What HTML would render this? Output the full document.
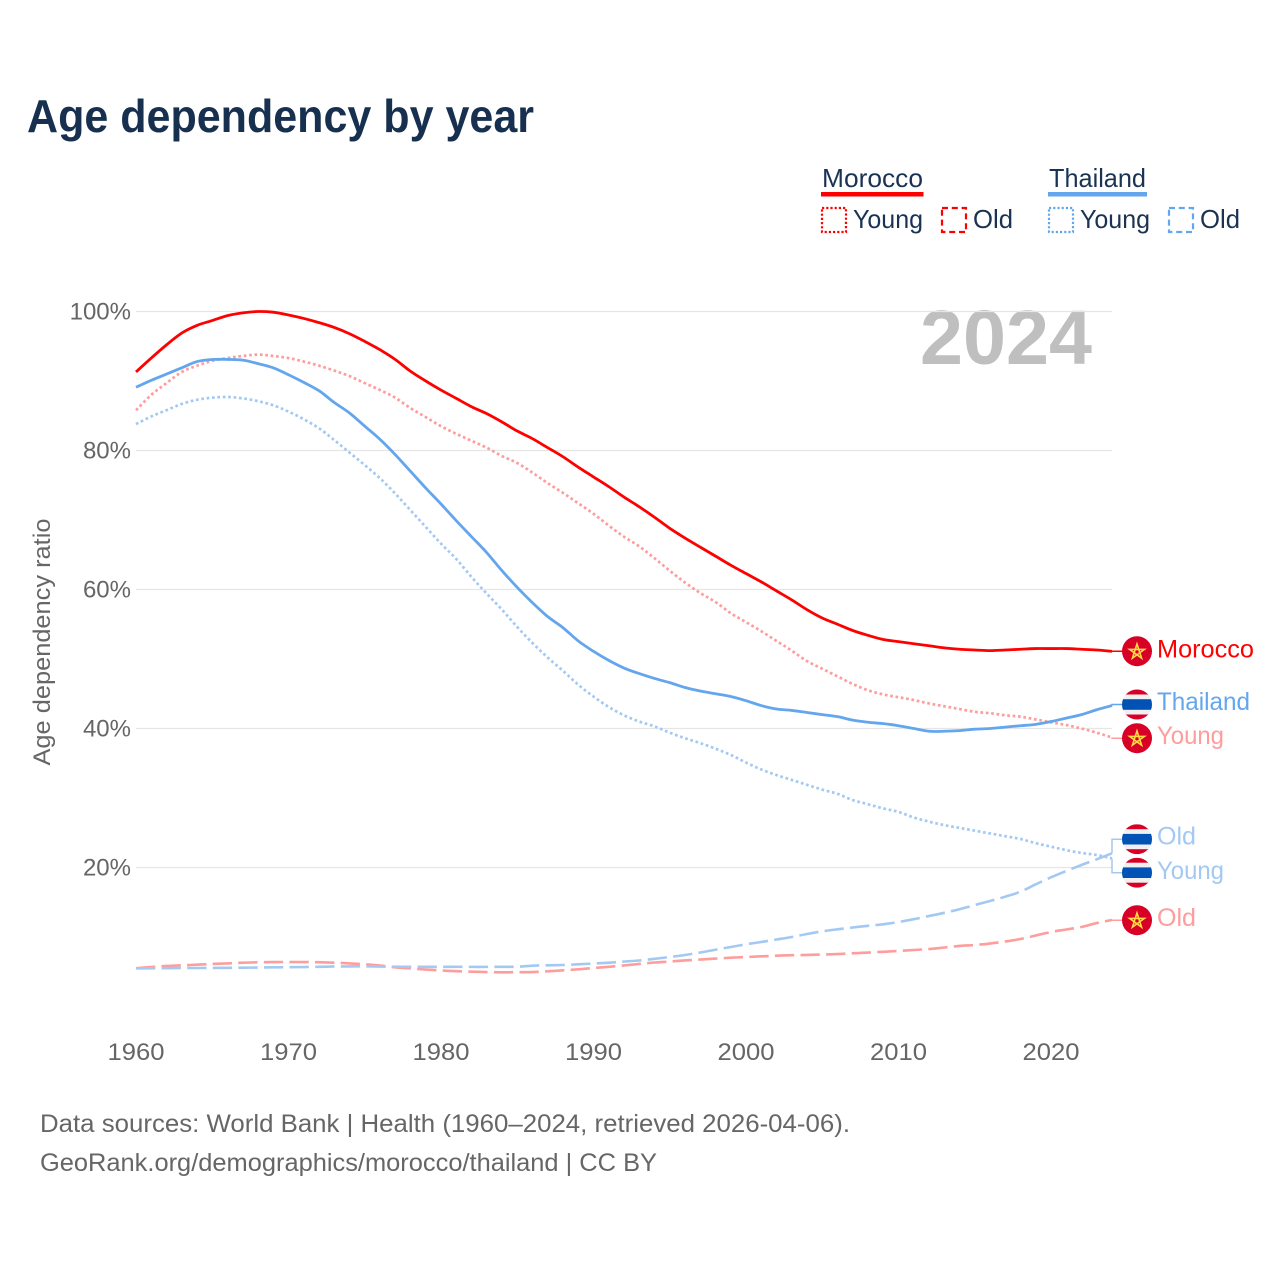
<!DOCTYPE html>
<html lang="en">
<head>
<meta charset="utf-8">
<title>Age dependency by year</title>
<style>
html,body{margin:0;padding:0;background:#fff;}
svg{display:block;font-family:"Liberation Sans",sans-serif;}
</style>
</head>
<body>
<svg id="chart" xmlns="http://www.w3.org/2000/svg" width="1280" height="1280" viewBox="0 0 1280 1280">
  <rect width="1280" height="1280" fill="#fff"/>
  <text x="27" y="132" font-size="46" font-weight="700" fill="#17304f" textLength="507" lengthAdjust="spacingAndGlyphs">Age dependency by year</text>

  <g font-size="26" fill="#1a3353">
    <text x="822" y="187" textLength="101" lengthAdjust="spacingAndGlyphs">Morocco</text>
    <rect x="821" y="192" width="102.5" height="4.5" fill="#ff0000"/>
    <rect x="822" y="208" width="24" height="24" fill="none" stroke="#ff0000" stroke-width="2.2" stroke-dasharray="2.2 2"/>
    <text x="853" y="228" textLength="70" lengthAdjust="spacingAndGlyphs">Young</text>
    <rect x="942" y="208" width="24" height="24" fill="none" stroke="#ff0000" stroke-width="2.2" stroke-dasharray="6 3.8"/>
    <text x="973" y="228" textLength="40" lengthAdjust="spacingAndGlyphs">Old</text>
    <text x="1049" y="187" textLength="97" lengthAdjust="spacingAndGlyphs">Thailand</text>
    <rect x="1048" y="192" width="99" height="4.5" fill="#63a6ee"/>
    <rect x="1049" y="208" width="24" height="24" fill="none" stroke="#63a6ee" stroke-width="2.2" stroke-dasharray="2.2 2"/>
    <text x="1080" y="228" textLength="70" lengthAdjust="spacingAndGlyphs">Young</text>
    <rect x="1169" y="208" width="24" height="24" fill="none" stroke="#63a6ee" stroke-width="2.2" stroke-dasharray="6 3.8"/>
    <text x="1200" y="228" textLength="40" lengthAdjust="spacingAndGlyphs">Old</text>
  </g>

  <text x="920" y="364" font-size="77" font-weight="700" fill="#bfbfbf" textLength="172" lengthAdjust="spacingAndGlyphs">2024</text>

  <g id="grid"></g>
  <g id="yticks"></g>
  <g id="xticks"></g>
  <text transform="translate(50,642) rotate(-90)" text-anchor="middle" font-size="24" fill="#666" textLength="247" lengthAdjust="spacingAndGlyphs">Age dependency ratio</text>

  <g id="series"></g>
  <g id="labels"></g>

  <text x="40" y="1132" font-size="25" fill="#666" textLength="810" lengthAdjust="spacingAndGlyphs">Data sources: World Bank | Health (1960–2024, retrieved 2026-04-06).</text>
  <text x="40" y="1171" font-size="25" fill="#666" textLength="617" lengthAdjust="spacingAndGlyphs">GeoRank.org/demographics/morocco/thailand | CC BY</text>
</svg>
<script>
const startYear = 1960;
const endYear = 2024;
const yTickValues = [20, 40, 60, 80, 100];
const yTickLabels = ['20%', '40%', '60%', '80%', '100%'];
const xTickValues = [1960, 1970, 1980, 1990, 2000, 2010, 2020];
const xTickLabels = ['1960', '1970', '1980', '1990', '2000', '2010', '2020'];

const moroccoTotal = [91.3,93.3,95.2,96.9,98.0,98.7,99.4,99.8,100,99.9,
  99.5,99.0,98.4,97.7,96.8,95.7,94.5,93.1,91.4,90.0,
  88.7,87.5,86.3,85.3,84.1,82.8,81.7,80.4,79.1,77.6,
  76.2,74.8,73.3,71.9,70.4,68.8,67.4,66.1,64.8,63.5,
  62.3,61.1,59.8,58.5,57.1,55.9,55.0,54.1,53.4,52.8,
  52.5,52.2,51.9,51.6,51.4,51.3,51.2,51.3,51.4,51.5,
  51.5,51.5,51.4,51.3,51.1];
const moroccoYoung = [85.8,88.0,89.7,91.3,92.2,92.9,93.3,93.6,93.8,93.6,
  93.3,92.8,92.2,91.5,90.7,89.7,88.7,87.6,86.1,84.8,
  83.5,82.4,81.4,80.4,79.2,78.2,76.8,75.3,73.9,72.4,
  70.9,69.2,67.6,66.2,64.5,62.7,61.0,59.5,58.2,56.6,
  55.3,54.0,52.6,51.2,49.7,48.6,47.5,46.4,45.5,44.9,
  44.5,44.1,43.6,43.2,42.8,42.4,42.2,41.9,41.7,41.3,
  40.9,40.5,40.0,39.4,38.7];
const moroccoOld = [5.50,5.68,5.83,5.93,6.01,6.12,6.20,6.30,6.36,6.40,
  6.40,6.40,6.37,6.30,6.20,6.07,5.90,5.64,5.47,5.32,
  5.18,5.08,5.01,4.96,4.92,4.94,4.96,5.06,5.21,5.35,
  5.54,5.71,5.91,6.12,6.33,6.47,6.63,6.76,6.89,7.02,
  7.12,7.22,7.31,7.38,7.42,7.48,7.55,7.65,7.76,7.87,
  7.99,8.13,8.27,8.49,8.71,8.85,9.06,9.35,9.71,10.22,
  10.72,11.08,11.44,12.01,12.45];
const thailandTotal = [89.1,90.1,91.0,91.9,92.8,93.1,93.1,93.0,92.5,91.9,
  90.9,89.8,88.6,86.9,85.4,83.5,81.6,79.4,77.0,74.6,
  72.3,69.9,67.6,65.3,62.7,60.3,58.1,56.1,54.5,52.6,
  51.1,49.8,48.7,47.9,47.2,46.6,45.9,45.4,45.0,44.6,
  44.0,43.3,42.8,42.6,42.3,42.0,41.7,41.2,40.9,40.7,
  40.4,40.0,39.6,39.6,39.7,39.9,40.0,40.2,40.4,40.6,
  41.0,41.5,42.0,42.7,43.3];
const thailandYoung = [83.8,84.9,85.8,86.7,87.3,87.6,87.7,87.5,87.1,86.5,
  85.6,84.5,83.2,81.5,79.7,77.9,76.0,73.8,71.4,69.0,
  66.6,64.4,61.8,59.4,57.1,54.6,52.3,50.2,48.3,46.3,
  44.6,43.1,41.9,41.0,40.3,39.4,38.6,37.9,37.1,36.2,
  35.1,34.1,33.3,32.6,31.9,31.2,30.6,29.7,29.1,28.5,
  28.0,27.2,26.6,26.1,25.7,25.3,24.9,24.5,24.1,23.5,
  23.0,22.5,22.1,21.8,21.3];
const thailandOld = [5.50,5.50,5.51,5.54,5.54,5.55,5.57,5.58,5.61,5.64,
  5.65,5.68,5.71,5.76,5.77,5.78,5.74,5.73,5.71,5.71,
  5.71,5.71,5.70,5.70,5.71,5.72,5.87,5.93,5.97,6.07,
  6.19,6.30,6.47,6.62,6.86,7.12,7.41,7.77,8.17,8.56,
  8.95,9.28,9.64,10.0,10.43,10.82,11.11,11.37,11.61,11.83,
  12.16,12.56,13.02,13.48,13.99,14.6,15.18,15.8,16.52,17.58,
  18.59,19.5,20.36,21.18,22.04];

const NS = 'http://www.w3.org/2000/svg';
const RED = '#ff0000', BLUE = '#63a6ee', PINK = '#ff9c9c', SKY = '#a3c9f3';
function xScale(year) { return 136 + (year - startYear) * (1112 - 136) / (endYear - startYear); }
function yScale(v) { return 1006.5 - v * 6.95; }
function make(tag, parent, attrs) {
  const el = document.createElementNS(NS, tag);
  for (const k in attrs) el.setAttribute(k, attrs[k]);
  parent.appendChild(el);
  return el;
}

const grid = document.getElementById('grid');
const yticks = document.getElementById('yticks');
yTickValues.forEach(function (v, i) {
  const ln = make('line', grid, {x1: 136, x2: 1112, y1: yScale(v), y2: yScale(v), stroke: '#e6e6e6', 'stroke-width': 1.3});
  
  
  const t = make('text', yticks, {x: 131, y: yScale(v) + 8, 'text-anchor': 'end', 'font-size': 24, fill: '#666'});
  
  
  t.textContent = yTickLabels[i];
});
const xticks = document.getElementById('xticks');
xTickValues.forEach(function (yr, i) {
  const t = make('text', xticks, {x: xScale(yr), y: 1060, 'text-anchor': 'middle', 'font-size': 24, fill: '#666', textLength: 57, lengthAdjust: 'spacingAndGlyphs'});
  
  
  t.textContent = xTickLabels[i];
});

const seriesGroup = document.getElementById('series');
function smoothPath(values) {
  const p = values.map(function (v, i) { return [xScale(startYear + i), yScale(v)]; });
  let d = 'M' + p[0][0].toFixed(2) + ' ' + p[0][1].toFixed(2);
  for (let i = 0; i < p.length - 1; i++) {
    const a = p[Math.max(i - 1, 0)], b = p[i], c = p[i + 1], e = p[Math.min(i + 2, p.length - 1)];
    const c1x = b[0] + (c[0] - a[0]) / 6, c1y = b[1] + (c[1] - a[1]) / 6;
    const c2x = c[0] - (e[0] - b[0]) / 6, c2y = c[1] - (e[1] - b[1]) / 6;
    d += ' C' + c1x.toFixed(2) + ' ' + c1y.toFixed(2) + ' ' + c2x.toFixed(2) + ' ' + c2y.toFixed(2) + ' ' + c[0].toFixed(2) + ' ' + c[1].toFixed(2);
  }
  return d;
}
function drawLine(values, color, width, dash, name) {
  const attrs = {d: smoothPath(values), fill: 'none', stroke: color, 'stroke-width': width, 'stroke-linejoin': 'round'};
  if (dash) attrs['stroke-dasharray'] = dash;
  const pl = make('path', seriesGroup, attrs);
  
  
}
drawLine(moroccoOld, PINK, 2.6, '19.3 6.3', 'line-morocco-old');
drawLine(thailandOld, SKY, 2.6, '19.3 6.3', 'line-thailand-old');
drawLine(moroccoYoung, PINK, 2.7, '2.7 2.7', 'line-morocco-young');
drawLine(thailandYoung, SKY, 2.7, '2.7 2.7', 'line-thailand-young');
drawLine(thailandTotal, BLUE, 2.8, null, 'line-thailand-total');
drawLine(moroccoTotal, RED, 2.8, null, 'line-morocco-total');

const labels = document.getElementById('labels');
function last(a) { return a[a.length - 1]; }
function connector(value, labelY, color, name) {
  const y0 = yScale(value);
  const d = 'M1112 ' + y0.toFixed(2) + ' L1112 ' + labelY + ' L1122 ' + labelY;
  const p = make('path', labels, {d: d, fill: 'none', stroke: color, 'stroke-width': 1.5});
  
  
}
function flag(country, cy, name) {
  const g = make('g', labels, {});
  
  
  const cx = 1137, r = 15;
  make('circle', g, {cx: cx, cy: cy, r: r, fill: country === 'MA' ? '#d80027' : '#f0f0f0'});
  if (country === 'MA') {
    const pts = [];
    for (let i = 0; i < 5; i++) {
      const a = -Math.PI / 2 + i * 2 * (2 * Math.PI / 5);
      pts.push((cx + 7.8 * Math.cos(a)).toFixed(2) + ',' + (cy + 0.6 + 7.8 * Math.sin(a)).toFixed(2));
    }
    make('polygon', g, {points: pts.join(' '), fill: 'none', stroke: '#ffda44', 'stroke-width': 1.6, 'stroke-linejoin': 'miter'});
  } else {
    const clip = 'clip-' + name;
    const cp = make('clipPath', g, {id: clip});
    make('circle', cp, {cx: cx, cy: cy, r: r});
    make('rect', g, {x: cx - r, y: cy - r, width: 2 * r, height: 5, fill: '#d80027', 'clip-path': 'url(#' + clip + ')'});
    make('rect', g, {x: cx - r, y: cy + r - 5, width: 2 * r, height: 5, fill: '#d80027', 'clip-path': 'url(#' + clip + ')'});
    make('rect', g, {x: cx - r, y: cy - 5.3, width: 2 * r, height: 10.6, fill: '#0052b4', 'clip-path': 'url(#' + clip + ')'});
  }
}
function endLabel(text, cy, color, width, name) {
  const t = make('text', labels, {x: 1157, y: cy + 7, 'font-size': 25, fill: color, textLength: width, lengthAdjust: 'spacingAndGlyphs'});
  
  
  t.textContent = text;
}
connector(last(moroccoTotal), 651.2, RED, 'connector-morocco');
connector(last(thailandTotal), 704.5, BLUE, 'connector-thailand');
connector(last(moroccoYoung), 738.2, PINK, 'connector-morocco-young');
connector(last(thailandOld), 839.2, SKY, 'connector-thailand-old');
connector(last(thailandYoung), 872.7, SKY, 'connector-thailand-young');
connector(last(moroccoOld), 920.2, PINK, 'connector-morocco-old');

flag('MA', 651.2, 'flag-morocco');
flag('TH', 704.5, 'flag-thailand');
flag('MA', 738.2, 'flag-morocco-young');
flag('TH', 839.2, 'flag-thailand-old');
flag('TH', 872.7, 'flag-thailand-young');
flag('MA', 920.2, 'flag-morocco-old');

endLabel('Morocco', 650.5, RED, 97, 'label-morocco');
endLabel('Thailand', 703, BLUE, 93, 'label-thailand');
endLabel('Young', 737, PINK, 67, 'label-morocco-young');
endLabel('Old', 837.5, SKY, 39, 'label-thailand-old');
endLabel('Young', 872, SKY, 67, 'label-thailand-young');
endLabel('Old', 919, PINK, 39, 'label-morocco-old');
</script>
</body>
</html>
